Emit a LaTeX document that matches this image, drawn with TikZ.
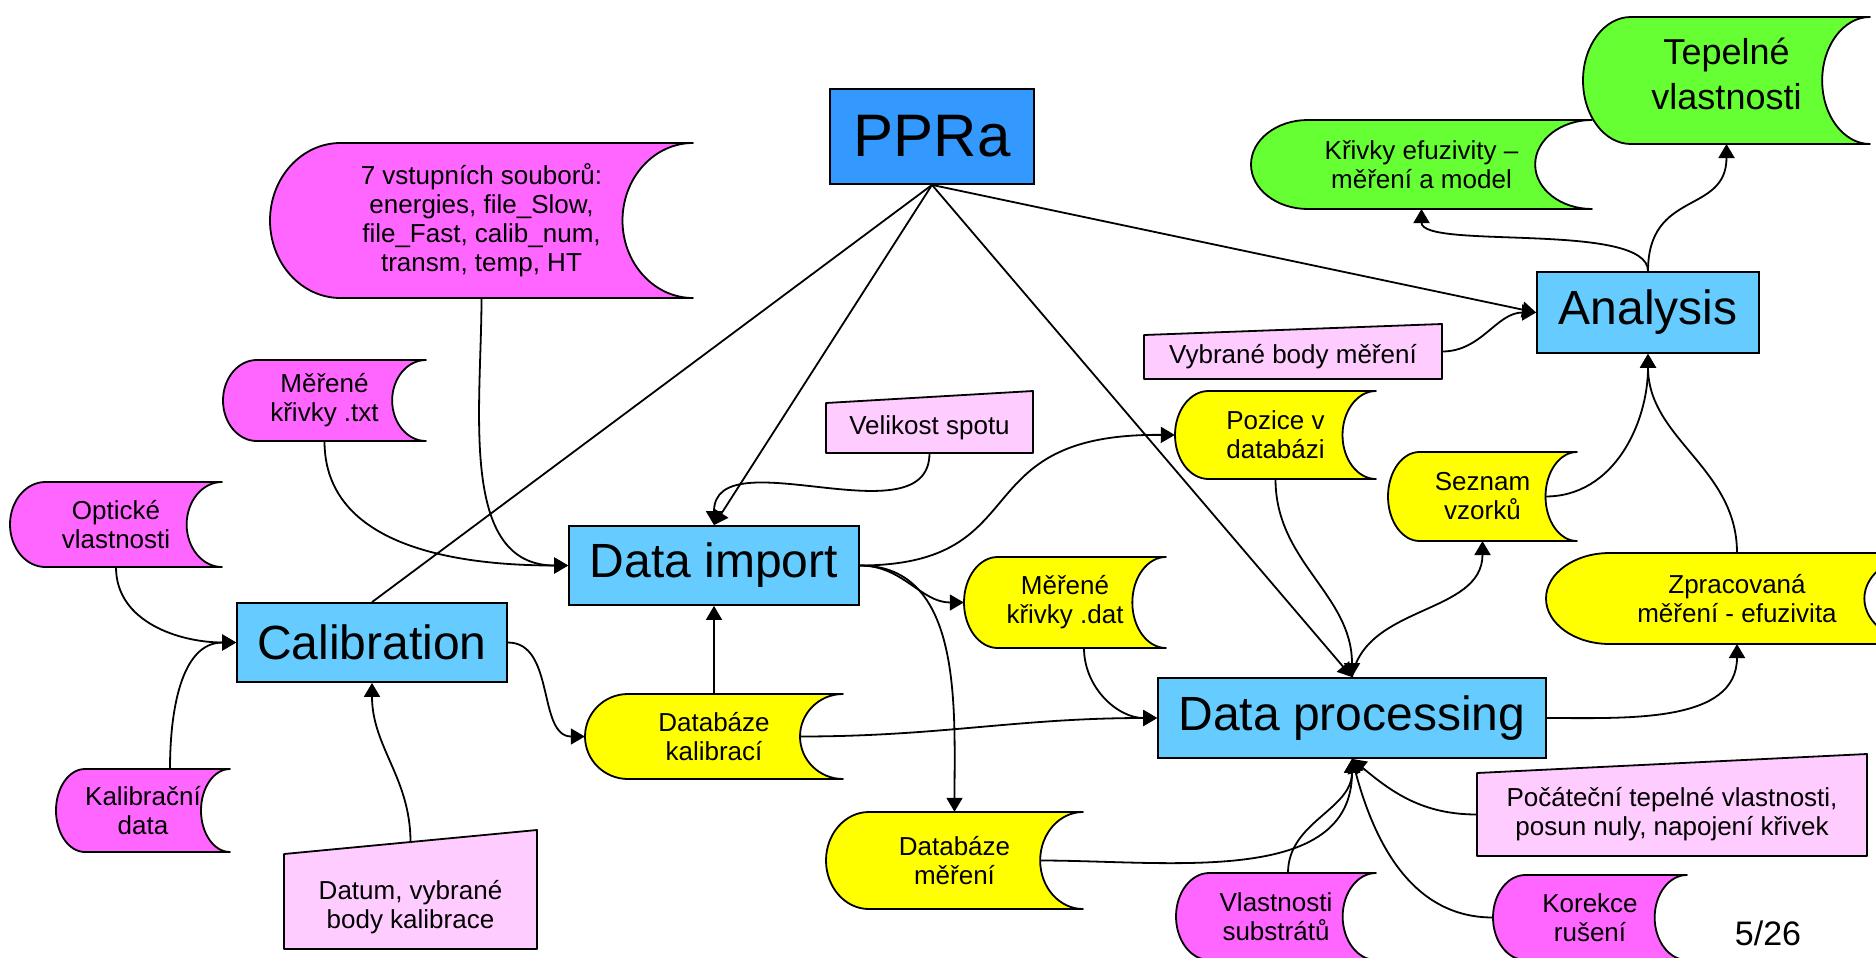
\documentclass[tikz,border=0pt]{standalone}
\usepackage{fontspec}
\setmainfont{Liberation Sans}
\usetikzlibrary{arrows.meta}
\definecolor{procblue}{HTML}{66CCFF}
\definecolor{pprablue}{HTML}{3399FF}
\definecolor{smag}{HTML}{FF66FF}
\definecolor{syel}{HTML}{FFFF00}
\definecolor{sgreen}{HTML}{66FF33}
\definecolor{pinkin}{HTML}{FFCCFF}
\tikzset{
  shapeline/.style={draw=black, line width=1.8pt, line join=round},
  stext/.style={align=center, inner sep=0pt, font=\fontsize{26}{29}\selectfont},
  bigtext/.style={align=center, inner sep=0pt, font=\fontsize{36}{45}\selectfont, yshift=7pt},
  proc/.style={draw=black, line width=1.8pt, fill=procblue, inner sep=0pt, font=\fontsize{48}{56}\selectfont},
  conn/.style={draw=black, line width=1.8pt},
  arr/.style={-{Triangle[length=14pt,width=16pt]}}
}
% stored data shape: [style]{name}{x1}{y1}{x2}{y2}{fill}{text}
\newcommand{\stored}[8][stext]{%
  \pgfmathsetmacro\SDa{(#5-#3)/6}%
  \pgfmathsetmacro\SDb{(#6-#4)/2}%
  \pgfmathsetmacro\SDm{(#4+#6)/2}%
  \pgfmathsetmacro\SDka{0.5523*\SDa}%
  \pgfmathsetmacro\SDkb{0.5523*\SDb}%
  \pgfmathsetmacro\SDw{#5-#3}%
  \pgfmathsetmacro\SDh{#6-#4}%
  \pgfmathsetmacro\SDc{(#3+#5)/2}%
  \pgfmathsetmacro\SDin{#5-\SDa}%
  \pgfmathsetmacro\SDl{#3+\SDa}%
  \path[shapeline, fill=#7] (\SDl,#4) -- (#5,#4)
     .. controls ({#5-\SDka},#4) and (\SDin,{\SDm-\SDkb}) .. (\SDin,\SDm)
     .. controls (\SDin,{\SDm+\SDkb}) and ({#5-\SDka},#6) .. (#5,#6)
     -- (\SDl,#6)
     .. controls ({\SDl-\SDka},#6) and (#3,{\SDm+\SDkb}) .. (#3,\SDm)
     .. controls (#3,{\SDm-\SDkb}) and ({\SDl-\SDka},#4) .. (\SDl,#4) -- cycle;
  \node[#1, minimum width=\SDw, minimum height=\SDh] (#2) at (\SDc,\SDm) {#8};
  \coordinate (#2-e) at (\SDin,\SDm);
  \coordinate (#2-s) at (\SDc,#6);
}
% manual input shape: [text shift]{name}{x1}{x2}{yTopLeft}{yTopRight}{yBottom}{text}
\newcommand{\manin}[8][0]{%
  \pgfmathsetmacro\MIt{(#5+#6)/2}%
  \pgfmathsetmacro\MIc{(#3+#4)/2}%
  \pgfmathsetmacro\MIy{(#5+#7)/2+#1}%
  \pgfmathsetmacro\MIw{#4-#3}%
  \path[shapeline, fill=pinkin] (#3,#7) -- (#3,#5) -- (#4,#6) -- (#4,#7) -- cycle;
  \node[stext, minimum width=\MIw] (#2) at (\MIc,\MIy) {#8};
  \coordinate (#2-n) at (\MIc,\MIt);
  \coordinate (#2-s) at (\MIc,#7);
  \coordinate (#2-w) at (#3,{(#5+#7)/2});
  \coordinate (#2-e) at (#4,{(#6+#7)/2});
}
\begin{document}
\begin{tikzpicture}[x=1pt,y=-1pt]
\useasboundingbox (0,0) rectangle (1876,958);
\clip (0,0) rectangle (1876,958);
\fill[white] (0,0) rectangle (1876,958);

% process boxes
\node[proc, minimum width=204, minimum height=95, fill=pprablue, font=\fontsize{60}{70}\selectfont] (ppra) at (932,136.5) {PPRa};
\node[proc, minimum width=222, minimum height=81] (analysis) at (1648,312.5) {Analysis};
\node[proc, minimum width=290, minimum height=79] (dimport) at (714,565.5) {Data import};
\node[proc, minimum width=270, minimum height=79] (calib) at (372,642.5) {Calibration};
\node[proc, minimum width=388, minimum height=80] (dproc) at (1352,718) {Data processing};

% stored data
\stored[bigtext]{tep}{1583}{17}{1870}{144}{sgreen}{Tepelné\\vlastnosti}
\stored{kriv}{1251}{120}{1592}{209}{sgreen}{Křivky efuzivity –\\měření a model}
\stored{vstup}{270}{143}{693}{298}{smag}{7 vstupních souborů:\\energies, file\_Slow,\\file\_Fast, calib\_num,\\transm, temp, HT}
\stored{mtxt}{223}{360}{426}{441}{smag}{Měřené\\křivky .txt}
\stored{optic}{10}{482}{222}{567}{smag}{Optické\\vlastnosti}
\stored{kalib}{56}{769}{230}{852}{smag}{Kalibrační\\data}
\stored{pozice}{1175}{391}{1376}{479}{syel}{Pozice v\\databázi}
\stored{seznam}{1388}{452}{1577}{541}{syel}{Seznam\\vzorků}
\stored{mdat}{964}{557}{1166}{648}{syel}{Měřené\\křivky .dat}
\stored{zprac}{1546}{553}{1928}{644}{syel}{Zpracovaná\\měření - efuzivita}
\stored{dbk}{585}{694}{843}{779}{syel}{Databáze\\kalibrací}
\stored{dbm}{826}{812}{1083}{909}{syel}{Databáze\\měření}
\stored{vsub}{1176}{873}{1376}{960}{smag}{Vlastnosti\\substrátů}
\stored{korek}{1493}{875}{1687}{960}{smag}{Korekce\\rušení}

% manual inputs
\manin{vybr}{1144}{1442}{335}{324}{379}{Vybrané body měření}
\manin{velik}{826}{1033}{403}{391}{453}{Velikost spotu}
\manin[6]{datum}{284}{537}{854}{830}{949}{Datum, vybrané\\body kalibrace}
\manin{pocat}{1477}{1867}{773}{754}{856}{Počáteční tepelné vlastnosti,\\posun nuly, napojení křivek}

\node[font=\fontsize{34}{40}\selectfont, inner sep=0pt] (page) at (1768,933) {5/26};

% connectors
\draw[conn] (ppra.south) -- (calib.north);
\draw[conn,arr] (ppra.south) -- (dimport.north);
\draw[conn,arr] (ppra.south) -- (dproc.north);
\draw[conn,arr] (ppra.south) -- (analysis.west);
\draw[conn,arr] (vybr-e) to[out=0,in=180] (analysis.west);
\draw[conn,arr] (analysis.north) .. controls +(0,-50) and +(0,41) .. (kriv-s);
\draw[conn,arr] (analysis.north) .. controls +(0,-82) and +(0,71) .. (tep-s);
\draw[conn,arr] (seznam-e) to[out=0,in=-90] (analysis.south);
\draw[conn,arr] (zprac-s |- zprac.north) to[out=90,in=-90] (analysis.south);
\draw[conn,arr] (dproc.east) to[out=0,in=-90] (zprac-s);
\draw[conn,arr] (dproc.north) to[out=80,in=-90] (seznam-s);
\draw[conn,arr] (pozice.south) to[out=-90,in=90] (dproc.north);
\draw[conn,arr] (dimport.east) .. controls (1040,565) and (960,433) .. (pozice.west);
\draw[conn,arr] (dimport.east) to[out=0,in=180] (mdat.west);
\draw[conn,arr] (dimport.east) to[out=0,in=90] (dbm.north);
\draw[conn,arr] ([xshift=19pt]mdat-s) to[out=-90,in=180] (dproc.west);
\draw[conn,arr] (dbk-e) to[out=0,in=180] (dproc.west);
\draw[conn,arr] (dbm-e) to[out=0,in=-90] (dproc.south);
\draw[conn,arr] ([xshift=12pt]vsub.north) to[out=90,in=-90] (dproc.south);
\draw[conn,arr] (korek.west) to[out=180,in=-75] (dproc.south);
\draw[conn,arr] (pocat-w) to[out=180,in=-40] (dproc.south);
\draw[conn,arr] (dbk.north) -- (dimport.south);
\draw[conn,arr] (calib.east) to[out=0,in=180] (dbk.west);
\draw[conn,arr] (optic.south) to[out=-90,in=180] (calib.west);
\draw[conn,arr] ([xshift=27pt]kalib.north) to[out=90,in=180] (calib.west);
\draw[conn,arr] (datum-n) to[out=90,in=-90] (calib.south);
\draw[conn,arr] (mtxt.south) to[out=-90,in=180] (dimport.west);
\draw[conn,arr] (vstup.south) to[out=-90,in=180] (dimport.west);
\draw[conn,arr] (velik-s) to[out=-90,in=90] (dimport.north);
\end{tikzpicture}
\end{document}
